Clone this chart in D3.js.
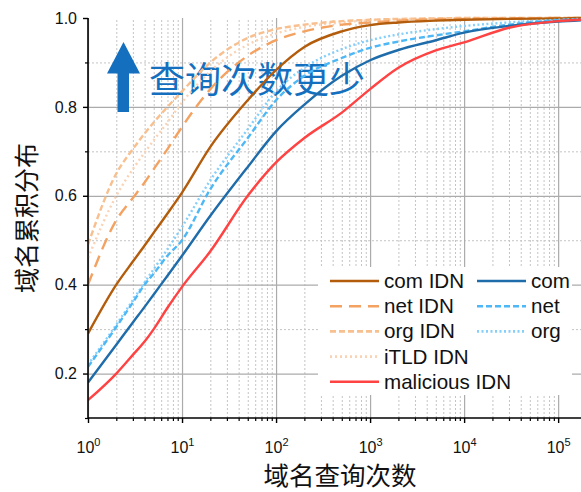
<!DOCTYPE html>
<html>
<head>
<meta charset="utf-8">
<script src="https://cdn.jsdelivr.net/npm/d3@7"></script>
<style>
  html, body { margin: 0; padding: 0; background: #fff; }
  svg { display: block; }
  .tick text { font-family: "Liberation Sans", Arial, sans-serif; }
</style>
</head>
<body>
<div id="chart"></div>
<script>
// query counts (x, log scale) shared by every series
const queryCounts = [1, 2, 3, 4, 5, 7, 10, 20, 50, 100, 200, 500, 1000, 2000, 5000, 10000, 30000, 100000, 175000];

// CDF values
const comIdn =       [0.29, 0.40, 0.452, 0.488, 0.517, 0.560, 0.607, 0.71, 0.815, 0.883, 0.935, 0.97, 0.984, 0.99, 0.994, 0.996, 0.998, 0.999, 1.0];
const netIdn =       [0.40, 0.545, 0.595, 0.63, 0.66, 0.705, 0.755, 0.84, 0.915, 0.95, 0.97, 0.985, 0.99, 0.994, 0.997, 0.998, 0.999, 1.0, 1.0];
const orgIdn =       [0.49, 0.65, 0.705, 0.74, 0.765, 0.80, 0.835, 0.90, 0.955, 0.975, 0.985, 0.993, 0.996, 0.998, 0.999, 1.0, 1.0, 1.0, 1.0];
const itldIdn =      [0.46, 0.60, 0.66, 0.697, 0.725, 0.765, 0.81, 0.88, 0.94, 0.965, 0.98, 0.99, 0.995, 0.997, 0.999, 1.0, 1.0, 1.0, 1.0];
const maliciousIdn = [0.14, 0.20, 0.242, 0.272, 0.30, 0.348, 0.395, 0.475, 0.60, 0.675, 0.73, 0.787, 0.84, 0.888, 0.927, 0.945, 0.978, 0.993, 0.996];
const comAll =       [0.18, 0.265, 0.315, 0.35, 0.378, 0.42, 0.465, 0.555, 0.665, 0.745, 0.805, 0.87, 0.905, 0.928, 0.95, 0.967, 0.982, 0.992, 0.995];
const netAll =       [0.215, 0.305, 0.36, 0.40, 0.425, 0.465, 0.50, 0.615, 0.73, 0.815, 0.87, 0.91, 0.933, 0.947, 0.961, 0.97, 0.985, 0.995, 0.997];
const orgAll =       [0.22, 0.31, 0.365, 0.405, 0.435, 0.48, 0.53, 0.635, 0.75, 0.835, 0.888, 0.93, 0.95, 0.963, 0.975, 0.982, 0.99, 0.996, 0.998];

const seriesNames = ['com IDN', 'net IDN', 'org IDN', 'iTLD IDN', 'malicious IDN', 'com', 'net', 'org'];
const seriesValues = [comIdn, netIdn, orgIdn, itldIdn, maliciousIdn, comAll, netAll, orgAll];
const seriesColors = ['#B35C0C', '#F4A261', '#F8BF8F', '#FAD2B4', '#FF4242', '#1F6CAB', '#4DB8F5', '#85CFFA'];
const seriesDashes = [null, '12,7', '6,3', '2,3', null, null, '6,3', '2,2.5'];

const yTicks = [0.2, 0.4, 0.6, 0.8, 1.0];
const yMinorTicks = [0.1, 0.3, 0.5, 0.7, 0.9];
const xTicks = [1, 10, 100, 1000, 10000, 100000];

const svgWidth = 581, svgHeight = 492;
const plotLeft = 88, plotRight = 581, plotTop = 18, plotBottom = 418;

const svg = d3.select('#chart').append('svg')
	.attr('width', svgWidth)
	.attr('height', svgHeight);

const x = d3.scaleLog().domain([1, 175000]).range([plotLeft, plotRight]);
const y = d3.scaleLinear().domain([0.1, 1.0]).range([plotBottom, plotTop]);

// minor x ticks 2..9 per decade
const xMinorTicks = [];
for (let e = 0; e <= 5; e++) {
	for (let k = 2; k <= 9; k++) {
		const v = k * Math.pow(10, e);
		if (v <= 175000) xMinorTicks.push(v);
	}
}

// grid
const grid = svg.append('g');
grid.append('g')
	.attr('transform', 'translate(0,' + plotBottom + ')')
	.call(d3.axisBottom(x).tickValues(xMinorTicks).tickSize(-(plotBottom - plotTop)).tickFormat(() => ''))
	.call(g => g.select('.domain').remove())
	.call(g => g.selectAll('line').attr('stroke', '#c4c4c4').attr('stroke-dasharray', '2,2'));
grid.append('g')
	.attr('transform', 'translate(' + plotLeft + ',0)')
	.call(d3.axisLeft(y).tickValues([0.3, 0.5, 0.7, 0.9]).tickSize(-(plotRight - plotLeft)).tickFormat(() => ''))
	.call(g => g.select('.domain').remove())
	.call(g => g.selectAll('line').attr('stroke', '#c4c4c4').attr('stroke-dasharray', '2,2'));
grid.append('g')
	.attr('transform', 'translate(0,' + plotBottom + ')')
	.call(d3.axisBottom(x).tickValues(xTicks).tickSize(-(plotBottom - plotTop)).tickFormat(() => ''))
	.call(g => g.select('.domain').remove())
	.call(g => g.selectAll('line').attr('stroke', '#ababab').attr('stroke-width', 1.2));
grid.append('g')
	.attr('transform', 'translate(' + plotLeft + ',0)')
	.call(d3.axisLeft(y).tickValues([0.2, 0.4, 0.6, 0.8]).tickSize(-(plotRight - plotLeft)).tickFormat(() => ''))
	.call(g => g.select('.domain').remove())
	.call(g => g.selectAll('line').attr('stroke', '#ababab').attr('stroke-width', 1.2));

// annotation arrow + text (behind curves)
const arrowColor = '#1470BF';
const arrowPath = d3.path();
arrowPath.moveTo(123.5, 42);
arrowPath.lineTo(140, 73.5);
arrowPath.lineTo(129, 73.5);
arrowPath.lineTo(129, 112);
arrowPath.lineTo(117.5, 112);
arrowPath.lineTo(117.5, 73.5);
arrowPath.lineTo(107, 73.5);
arrowPath.closePath();
svg.append('path').attr('d', arrowPath.toString()).attr('fill', arrowColor);
svg.append('text')
	.attr('x', 149)
	.attr('y', 93)
	.attr('font-family', '"Noto Sans CJK SC", sans-serif')
	.attr('font-size', 36)
	.attr('fill', arrowColor)
	.text('查询次数更少');

// curves
svg.append('clipPath').attr('id', 'plot-clip')
	.append('rect').attr('x', plotLeft).attr('y', plotTop - 3).attr('width', plotRight - plotLeft).attr('height', plotBottom - plotTop + 3);

const line = d3.line()
	.x((d, i) => x(queryCounts[i]))
	.y(d => y(d))
	.curve(d3.curveMonotoneX);

const drawOrder = [3, 2, 1, 0, 7, 6, 5, 4];
const curves = svg.append('g').attr('clip-path', 'url(#plot-clip)');
drawOrder.forEach(function (s) {
	curves.append('path')
		.attr('d', line(seriesValues[s]))
		.attr('fill', 'none')
		.attr('stroke', seriesColors[s])
		.attr('stroke-width', 2.4)
		.attr('stroke-dasharray', seriesDashes[s]);
});

// axes
const yAxis = svg.append('g')
	.attr('transform', 'translate(' + plotLeft + ',0)')
	.call(d3.axisLeft(y).tickValues(yTicks).tickSize(5).tickPadding(6).tickFormat(d3.format('.1f')));
yAxis.select('.domain').attr('stroke', '#000').attr('stroke-width', 1.6).attr('d', 'M0,' + plotTop + 'V' + plotBottom);
yAxis.selectAll('.tick line').attr('stroke-width', 1.4);
yAxis.selectAll('.tick text').attr('font-size', 16).attr('fill', '#111');
svg.append('g')
	.attr('transform', 'translate(' + plotLeft + ',0)')
	.call(d3.axisLeft(y).tickValues(yMinorTicks).tickSize(3).tickFormat(() => ''))
	.call(g => g.select('.domain').remove())
	.call(g => g.selectAll('line').attr('stroke-width', 1.2));

const xAxis = svg.append('g')
	.attr('transform', 'translate(0,' + plotBottom + ')')
	.call(d3.axisBottom(x).tickValues(xTicks).tickSize(5).tickPadding(8).tickFormat(() => ''));
xAxis.select('.domain').attr('stroke', '#000').attr('stroke-width', 1.6).attr('d', 'M' + plotLeft + ',0H' + plotRight);
xAxis.selectAll('.tick line').attr('stroke-width', 1.4);
xAxis.selectAll('.tick text').each(function (d) {
	const t = d3.select(this).attr('font-size', 16).attr('fill', '#111').attr('dy', '1.35em');
	t.append('tspan').text('10');
	t.append('tspan').attr('dy', -7).attr('font-size', 11).text(Math.round(Math.log10(d)));
});
svg.append('g')
	.attr('transform', 'translate(0,' + plotBottom + ')')
	.call(d3.axisBottom(x).tickValues(xMinorTicks).tickSize(3).tickFormat(() => ''))
	.call(g => g.select('.domain').remove())
	.call(g => g.selectAll('line').attr('stroke-width', 1.2));

// axis titles
svg.append('text')
	.attr('x', 340)
	.attr('y', 485)
	.attr('text-anchor', 'middle')
	.attr('font-family', '"Noto Sans CJK SC", sans-serif')
	.attr('font-size', 25.5)
	.attr('fill', '#111')
	.text('域名查询次数');
svg.append('text')
	.attr('transform', 'translate(36,218) rotate(-90)')
	.attr('text-anchor', 'middle')
	.attr('font-family', '"Noto Sans CJK SC", sans-serif')
	.attr('font-size', 25)
	.attr('fill', '#111')
	.text('域名累积分布');

// legend
const legend = svg.append('g');
legend.append('rect')
	.attr('x', 318).attr('y', 267).attr('width', 254).attr('height', 128)
	.attr('fill', '#fff');
const legendCols = [[0, 1, 2, 3, 4], [5, 6, 7]];
const colX = [330, 477];
const rowY = 281, rowStep = 25.2;
legendCols.forEach(function (col, c) {
	col.forEach(function (s, r) {
		const yy = rowY + r * rowStep;
		legend.append('line')
			.attr('x1', colX[c]).attr('x2', colX[c] + 49)
			.attr('y1', yy).attr('y2', yy)
			.attr('stroke', seriesColors[s])
			.attr('stroke-width', 2.6)
			.attr('stroke-dasharray', seriesDashes[s]);
		legend.append('text')
			.attr('x', colX[c] + 54)
			.attr('y', yy + 7)
			.attr('font-family', '"Liberation Sans", Arial, sans-serif')
			.attr('font-size', 20.6)
			.attr('fill', '#111')
			.text(seriesNames[s]);
	});
});
</script>
</body>
</html>
